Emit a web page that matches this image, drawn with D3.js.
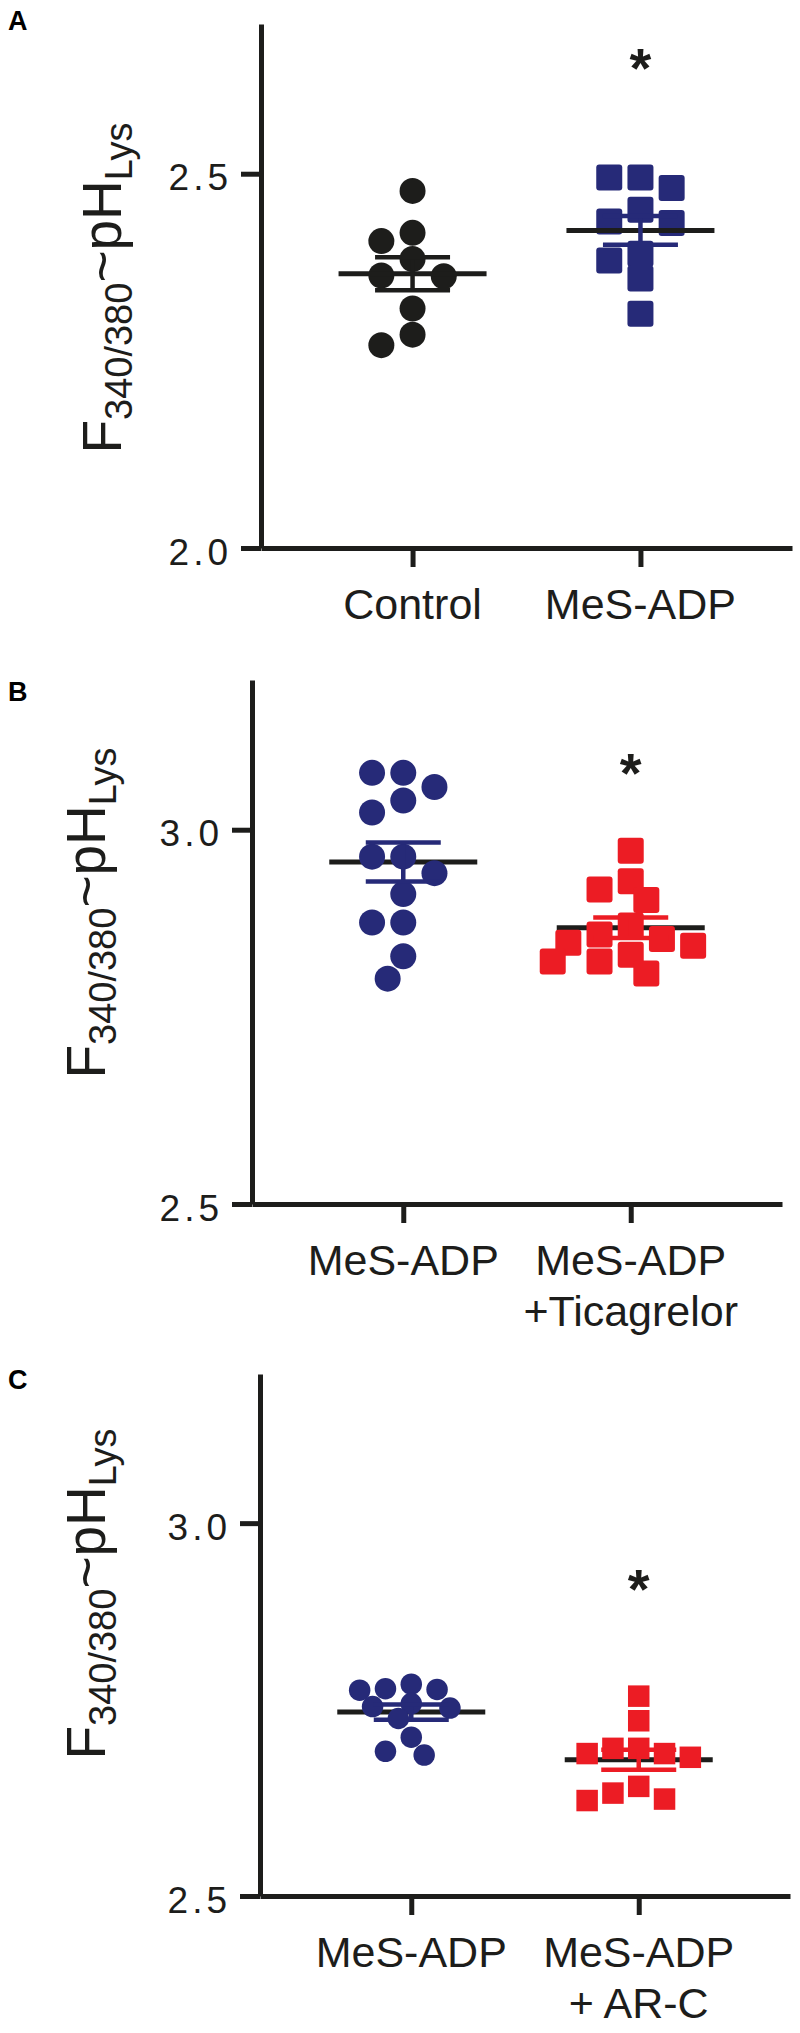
<!DOCTYPE html>
<html>
<head>
<meta charset="utf-8">
<script src="https://cdn.jsdelivr.net/npm/d3@7"></script>
<style>
  body { margin: 0; background: #fff; }
  svg { display: block; font-family: "Liberation Sans", Arial, Helvetica, sans-serif; }
</style>
</head>
<body>
<svg id="chart" width="800" height="2033"></svg>
<script>
// ---- values ----
var panelLetters = ["A", "B", "C"];

var groupsA = ["Control", "MeS-ADP"];
var groupsB = ["MeS-ADP", "MeS-ADP|+Ticagrelor"];
var groupsC = ["MeS-ADP", "MeS-ADP|+ AR-C"];

var controlA  = [2.477, 2.421, 2.410, 2.386, 2.364, 2.363, 2.320, 2.285, 2.271];
var mesAdpA   = [2.495, 2.495, 2.481, 2.452, 2.436, 2.434, 2.393, 2.384, 2.360, 2.313];

var mesAdpB   = [3.076, 3.076, 3.057, 3.039, 3.023, 2.964, 2.964, 2.942, 2.914, 2.876, 2.876, 2.831, 2.801];
var ticagB    = [2.972, 2.931, 2.920, 2.906, 2.872, 2.860, 2.854, 2.849, 2.845, 2.833, 2.824, 2.824, 2.808];

var mesAdpC   = [2.784, 2.778, 2.777, 2.776, 2.758, 2.754, 2.752, 2.738, 2.713, 2.694, 2.689];
var arcC      = [2.768, 2.735, 2.698, 2.698, 2.691, 2.691, 2.686, 2.647, 2.638, 2.630, 2.628];

var domainA = [2.0, 2.7], domainB = [2.5, 3.2], domainC = [2.5, 3.2];
var ticksA = [2.0, 2.5], ticksB = [2.5, 3.0], ticksC = [2.5, 3.0];

// where the significance star sits (data units)
var starA = 2.656, starB = 3.09, starC = 2.927;

// ---- styles ----
var black = "#1d1d1b";
var navy = "#262a78";
var red = "#ec1c24";

var panels = [
  { letter: panelLetters[0], groups: groupsA, values: [controlA, mesAdpA], domain: domainA, ticks: ticksA, star: starA,
    colors: [black, navy], shapes: ["circle", "square"], size: 26, rx: 3, meanOnTop: true,
    top: 24, bottom: 548, left: 261, right: 792, labelX: 121, labelY: 288, letterY: 30 },
  { letter: panelLetters[1], groups: groupsB, values: [mesAdpB, ticagB], domain: domainB, ticks: ticksB, star: starB,
    colors: [navy, red], shapes: ["circle", "square"], size: 26, rx: 3, meanOnTop: false,
    top: 680, bottom: 1204, left: 252, right: 782, labelX: 105, labelY: 913, letterY: 701 },
  { letter: panelLetters[2], groups: groupsC, values: [mesAdpC, arcC], domain: domainC, ticks: ticksC, star: starC,
    colors: [navy, red], shapes: ["circle", "square"], size: 21.5, rx: 0, meanOnTop: false,
    top: 1374, bottom: 1896, left: 260, right: 790, labelX: 105, labelY: 1594, letterY: 1389 }
];

var svg = d3.select("#chart");

// simple beeswarm: put each point in the slot nearest the centre where it doesn't collide
function swarm(vals, y, d) {
  var step = d * 0.6, minDist = d * 0.9;
  var order = d3.range(vals.length).sort(function(a, b) { return y(vals[a]) - y(vals[b]); });
  var placed = [];
  order.forEach(function(i) {
    var py = y(vals[i]);
    for (var k = 0; k < 40; k++) {
      var slot = (k % 2 === 1) ? -Math.ceil(k / 2) : k / 2;
      var px = slot * step;
      var ok = placed.every(function(p) {
        return Math.hypot(p.dx - px, p.y - py) >= minDist;
      });
      if (ok) { placed.push({ dx: px, y: py, v: vals[i] }); break; }
    }
  });
  return placed;
}

panels.forEach(function(p) {
  var g = svg.append("g");

  var y = d3.scaleLinear().domain(p.domain).range([p.bottom, p.top]);
  var x = d3.scalePoint().domain(p.groups).range([p.left, p.right]).padding(0.665);

  // y axis
  var yAxis = g.append("g")
    .attr("transform", "translate(" + p.left + ",0)")
    .call(d3.axisLeft(y).tickValues(p.ticks).tickSize(20).tickSizeOuter(0).tickFormat(d3.format(".1f")));
  yAxis.select(".domain").attr("stroke", black).attr("stroke-width", 5);
  yAxis.selectAll(".tick line").attr("stroke", black).attr("stroke-width", 5);
  yAxis.selectAll(".tick text")
    .attr("x", -29).attr("dy", "0.44em")
    .attr("font-size", 37).attr("letter-spacing", 4)
    .attr("fill", black).attr("font-family", "Liberation Sans, Arial, sans-serif");

  // x axis
  var xAxis = g.append("g")
    .attr("transform", "translate(0," + p.bottom + ")")
    .call(d3.axisBottom(x).tickSize(19).tickSizeOuter(0).tickFormat(""));
  xAxis.select(".domain").attr("stroke", black).attr("stroke-width", 5);
  xAxis.selectAll(".tick line").attr("stroke", black).attr("stroke-width", 5);

  // category labels (one or two lines)
  p.groups.forEach(function(name) {
    var t = g.append("text")
      .attr("text-anchor", "middle")
      .attr("font-size", 43)
      .attr("fill", black);
    name.split("|").forEach(function(line, li) {
      t.append("tspan")
        .attr("x", x(name))
        .attr("y", p.bottom + 71 + li * 51)
        .text(line);
    });
  });

  // y label
  var lab = g.append("text")
    .attr("transform", "translate(" + p.labelX + "," + p.labelY + ") rotate(-90)")
    .attr("text-anchor", "middle")
    .attr("font-size", 55)
    .attr("fill", black);
  lab.append("tspan").text("F");
  lab.append("tspan").attr("font-size", 38).attr("dy", 11).text("340/380");
  lab.append("tspan").attr("dy", -11).text("~pH");
  lab.append("tspan").attr("font-size", 38).attr("dy", 11).text("Lys");

  // panel letter
  g.append("text")
    .attr("x", 8).attr("y", p.letterY)
    .attr("font-size", 27).attr("font-weight", "bold")
    .attr("font-family", "Arial, Liberation Sans, sans-serif")
    .attr("fill", "#000")
    .text(p.letter);

  // star
  g.append("text")
    .attr("x", x(p.groups[1]))
    .attr("y", y(p.star) + 30)
    .attr("text-anchor", "middle")
    .attr("font-size", 56).attr("font-weight", "bold")
    .attr("fill", black)
    .text("*");

  p.groups.forEach(function(name, gi) {
    var vals = p.values[gi];
    var cx = x(name);
    var col = p.colors[gi];
    var mean = d3.mean(vals);
    var sem = d3.deviation(vals) / Math.sqrt(vals.length);

    var meanLine = function() {
      g.append("line")
        .attr("x1", cx - 74).attr("x2", cx + 74)
        .attr("y1", y(mean)).attr("y2", y(mean))
        .attr("stroke", black).attr("stroke-width", 5);
    };

    if (!p.meanOnTop) meanLine();

    var pts = swarm(vals, y, p.size);
    if (p.shapes[gi] === "circle") {
      g.selectAll(null).data(pts).enter().append("circle")
        .attr("cx", function(d) { return cx + d.dx; })
        .attr("cy", function(d) { return y(d.v); })
        .attr("r", p.size / 2)
        .attr("fill", col);
    } else {
      g.selectAll(null).data(pts).enter().append("rect")
        .attr("x", function(d) { return cx + d.dx - p.size / 2; })
        .attr("y", function(d) { return y(d.v) - p.size / 2; })
        .attr("width", p.size).attr("height", p.size)
        .attr("rx", p.rx)
        .attr("fill", col);
    }

    if (p.meanOnTop) meanLine();

    // SEM error bar
    g.append("line")
      .attr("x1", cx).attr("x2", cx)
      .attr("y1", y(mean + sem)).attr("y2", y(mean - sem))
      .attr("stroke", col).attr("stroke-width", 4.5);
    [mean + sem, mean - sem].forEach(function(v) {
      g.append("line")
        .attr("x1", cx - 37.5).attr("x2", cx + 37.5)
        .attr("y1", y(v)).attr("y2", y(v))
        .attr("stroke", col).attr("stroke-width", 4.5);
    });
  });
});
</script>
</body>
</html>
